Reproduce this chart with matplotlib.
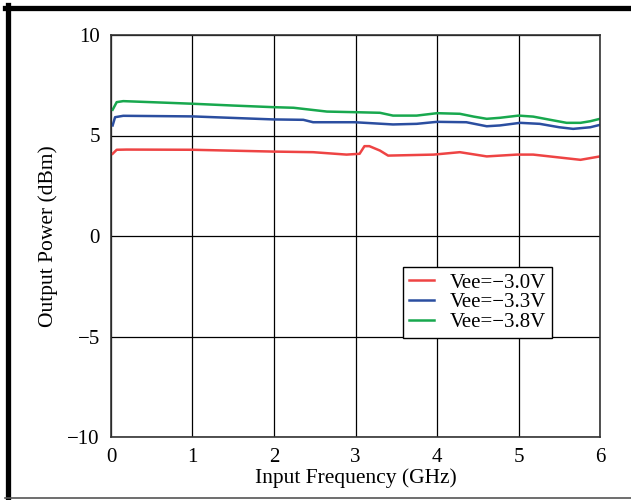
import matplotlib
matplotlib.use("Agg")
import matplotlib.pyplot as plt
from matplotlib.lines import Line2D

plt.rcParams['font.family'] = ['Liberation Serif', 'DejaVu Serif']

# Vee = -3.0 V (red)
freq_30 = [0.02, 0.07, 0.19, 1.0, 1.99, 2.48, 2.89, 3.05, 3.11, 3.17, 3.3, 3.4,
           3.96, 4.28, 4.61, 4.98, 5.18, 5.76, 6.0]
pout_30 = [4.09, 4.29, 4.30, 4.29, 4.20, 4.17, 4.05, 4.09, 4.47, 4.47, 4.25, 4.0,
           4.05, 4.17, 3.96, 4.05, 4.05, 3.79, 3.96]

# Vee = -3.3 V (blue)
freq_33 = [0.02, 0.05, 0.15, 1.0, 1.99, 2.36, 2.48, 2.99, 3.46, 3.75, 4.0, 4.36,
           4.61, 4.77, 5.02, 5.26, 5.5, 5.67, 5.88, 6.0]
pout_33 = [5.50, 5.91, 5.98, 5.95, 5.80, 5.78, 5.66, 5.66, 5.55, 5.58, 5.68, 5.66,
           5.46, 5.50, 5.63, 5.58, 5.41, 5.33, 5.41, 5.53]

# Vee = -3.8 V (green)
freq_38 = [0.02, 0.07, 0.15, 0.68, 1.0, 1.5, 1.99, 2.24, 2.65, 2.99, 3.3, 3.46,
           3.75, 4.0, 4.28, 4.45, 4.61, 4.77, 5.0, 5.18, 5.39, 5.59, 5.76, 5.88, 6.0]
pout_38 = [6.28, 6.66, 6.71, 6.63, 6.58, 6.49, 6.41, 6.38, 6.19, 6.16, 6.13, 5.99,
           5.99, 6.11, 6.08, 5.94, 5.83, 5.88, 5.99, 5.94, 5.78, 5.63, 5.63, 5.71, 5.83]

x_ticks = [0, 1, 2, 3, 4, 5, 6]
y_ticks = [-10, -5, 0, 5, 10]

fig = plt.figure(figsize=(6.31, 5.0), dpi=100)
ax = fig.add_axes([0.1759, 0.126, 0.775, 0.804])

ax.plot(freq_30, pout_30, color='#ee4444', lw=1.8, label='Vee=\u22123.0V')
ax.plot(freq_33, pout_33, color='#2b4ea0', lw=1.8, label='Vee=\u22123.3V')
ax.plot(freq_38, pout_38, color='#18a84e', lw=1.8, label='Vee=\u22123.8V')

ax.set_xlim(0, 6)
ax.set_ylim(-10, 10)
ax.set_xticks(x_ticks)
ax.set_yticks(y_ticks)
ax.grid(True, color='black', lw=0.9)
ax.set_axisbelow(True)
ax.tick_params(length=0, labelsize=15, pad=8)
for s in ax.spines.values():
    s.set_color('#333333')
    s.set_linewidth(1.2)

ax.set_xlabel('Input Frequency (GHz)', fontsize=15.5, labelpad=1)
ax.set_ylabel('Output Power (dBm)', fontsize=15.5, labelpad=7)

leg = ax.legend(loc='upper left', bbox_to_anchor=(0.597, 0.423), borderaxespad=0,
                fancybox=False, edgecolor='black', framealpha=1, fontsize=15,
                handlelength=1.2, labelspacing=0.0, borderpad=0.3,
                handletextpad=0.75)
leg.get_frame().set_linewidth(1.0)

# picture frame around the figure (open on the right)
fig.add_artist(Line2D([0.008, 1.0], [0.984, 0.984], transform=fig.transFigure,
                      color='black', lw=3.8))
fig.add_artist(Line2D([0.012, 0.012], [0.99, 0.0], transform=fig.transFigure,
                      color='black', lw=3.8))
fig.add_artist(Line2D([0.008, 1.0], [0.005, 0.005], transform=fig.transFigure,
                      color='#555555', lw=1.2))

fig.savefig('out.png', dpi=100)
